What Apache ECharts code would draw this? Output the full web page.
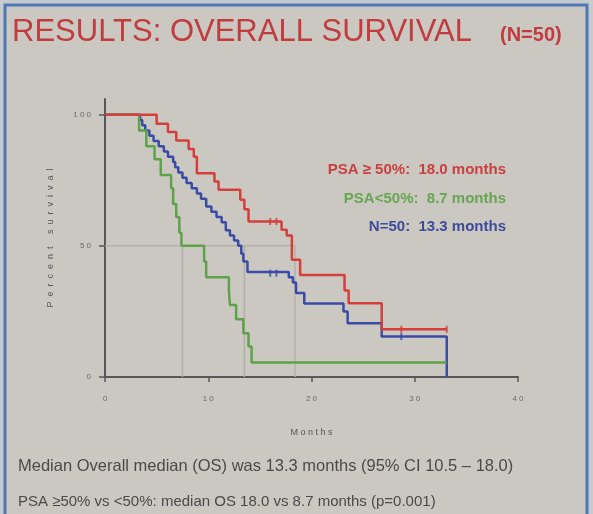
<!DOCTYPE html>
<html>
<head>
<meta charset="utf-8">
<script src="https://cdn.jsdelivr.net/npm/echarts@6/dist/echarts.min.js"></script>
<style>
  html, body { margin: 0; padding: 0; background: #c9cacd; }
  #main { width: 593px; height: 514px; }
</style>
</head>
<body>
<div id="main"></div>
<script>
// Kaplan-Meier steps: [month, percent surviving]
var redSteps = [[0,100],[5.0,96.6],[6.1,93.4],[6.9,90.2],[8.1,86.9],[8.6,84],[8.9,77.7],[10.6,74.5],[11.0,71.4],
  [13.1,67.6],[13.5,64],[13.9,59.3],[17.1,56.1],[17.6,54],[18.1,44.7],[18.9,38.9],[23.2,33],[23.6,28.1],[26.8,18.2],[33.1,18.2]];
var greenSteps = [[0,100],[3.3,94],[4.0,88],[4.8,83],[5.4,77],[6.4,72],[6.6,66],[6.9,61],[7.2,55],[7.4,50],
  [9.6,44],[9.8,38],[12.0,33],[12.1,27.5],[12.7,22],[13.4,16.7],[13.9,11.6],[14.2,5.5],[33.1,5.5]];
var blueSteps = [[0,100],[3.4,98],[3.6,96],[3.9,94],[4.3,92],[4.7,90],[5.2,88],[5.7,86],[6.1,84],[6.6,82],[6.8,80],
  [7.1,78],[7.5,76],[7.9,74],[8.4,72],[8.9,70],[9.3,68],[9.8,65],[10.3,63],[10.8,61],[11.3,59],[11.7,56],[12.1,54],
  [12.5,52],[12.9,50],[13.2,47],[13.4,44],[13.8,40],[17.8,38],[18.2,36],[18.5,32],[19.3,28],[23.1,25],[23.5,20.5],
  [26.8,15.4],[33.1,15.4],[33.1,0]];
var redCensor = [[16.0,59.3],[16.6,59.3],[28.7,18.2],[33.1,18.2]];
var blueCensor = [[16.0,39.6],[16.6,39.6],[28.7,15.4]];
// median reference lines (as drawn)
var medianMonths = [7.5, 13.5, 18.4];
var medianLevel = 50;
var yTicks = [0, 50, 100];

var legendLines = ['PSA \u2265 50%:  18.0 months', 'PSA<50%:  8.7 months', 'N=50:  13.3 months'];
var colors = ['#d23f3c', '#5ea24a', '#3a4ba6'];
var textColors = ['#c8403f', '#66a552', '#3d4b9c'];

var spaced = function (s) { return String(s).split('').join(' '); };
var wide = function (s) { return String(s).split('').join('  '); };

var series = [];
// grey guide lines
series.push({
  type: 'line', silent: true, symbol: 'none', z: 1,
  lineStyle: { color: '#b3b0ab', width: 1.5 },
  data: [[0, medianLevel], [medianMonths[medianMonths.length - 1], medianLevel]]
});
medianMonths.forEach(function (m) {
  series.push({
    type: 'line', silent: true, symbol: 'none', z: 1,
    lineStyle: { color: '#b3b0ab', width: 1.5 },
    data: [[m, 0], [m, medianLevel]]
  });
});
[redSteps, greenSteps, blueSteps].forEach(function (d, i) {
  series.push({
    type: 'line', step: 'end', symbol: 'none', z: 3 - i + 2,
    lineStyle: { color: colors[i], width: 2.5 },
    data: d
  });
});
[[redCensor, colors[0]], [blueCensor, colors[2]]].forEach(function (c) {
  series.push({
    type: 'scatter', symbol: 'rect', symbolSize: [2, 7], z: 6,
    itemStyle: { color: c[1] },
    data: c[0]
  });
});

var myChart = echarts.init(document.getElementById('main'));
var option = {
  backgroundColor: '#c9cacd',
  animation: false,
  grid: { left: 105, right: 75, top: 99, bottom: 137 },
  xAxis: {
    type: 'value', min: 0, max: 40, interval: 10,
    name: spaced('Months'), nameLocation: 'middle', nameGap: 51,
    nameTextStyle: { fontSize: 9, color: '#555', fontFamily: 'Liberation Sans' },
    axisLine: { lineStyle: { color: '#55575a', width: 2 } },
    axisTick: { length: 5, lineStyle: { color: '#55575a', width: 1.5 } },
    axisLabel: { fontSize: 8, color: '#6a6a6a', margin: 18, formatter: spaced, fontFamily: 'Liberation Sans' },
    splitLine: { show: false }
  },
  yAxis: {
    type: 'value', min: 0, max: 106, interval: 50,
    name: wide('Percent survival'), nameLocation: 'middle', nameGap: 50, nameRotate: 90,
    nameTextStyle: { fontSize: 9, color: '#555', fontFamily: 'Liberation Sans' },
    axisLine: { lineStyle: { color: '#55575a', width: 2 } },
    axisTick: { length: 6, customValues: yTicks, lineStyle: { color: '#55575a', width: 1.5 } },
    axisLabel: { fontSize: 8, color: '#6a6a6a', margin: 14, customValues: yTicks, formatter: spaced, fontFamily: 'Liberation Sans' },
    splitLine: { show: false }
  },
  graphic: [
    { type: 'rect', z: -1, shape: { x: 5, y: 5, width: 582, height: 520 },
      style: { fill: '#cbc8c2', stroke: '#4d79b8', lineWidth: 3 } },
    { type: 'text', x: 12, y: 32, style: { text: 'RESULTS: OVERALL SURVIVAL', fill: '#c23b3f',
      font: '31px "Liberation Sans"', textVerticalAlign: 'middle' } },
    { type: 'text', x: 500, y: 35, style: { text: '(N=50)', fill: '#c23b3f',
      font: 'bold 20px "Liberation Sans"', textVerticalAlign: 'middle' } },
    { type: 'text', x: 18, y: 466, style: { text: 'Median Overall median (OS) was 13.3 months (95% CI 10.5 \u2013 18.0)',
      fill: '#4a4a4a', font: '16.5px "Liberation Sans"', textVerticalAlign: 'middle' } },
    { type: 'text', x: 18, y: 502, style: { text: 'PSA \u226550% vs <50%: median OS 18.0 vs 8.7 months (p=0.001)',
      fill: '#4a4a4a', font: '15px "Liberation Sans"', textVerticalAlign: 'middle' } }
  ].concat(legendLines.map(function (t, i) {
    return { type: 'text', x: 506, y: 170 + i * 28.5, style: { text: t, fill: textColors[i],
      font: 'bold 15px "Liberation Sans"', textAlign: 'right', textVerticalAlign: 'middle' } };
  })),
  series: series
};
myChart.setOption(option);
</script>
</body>
</html>
